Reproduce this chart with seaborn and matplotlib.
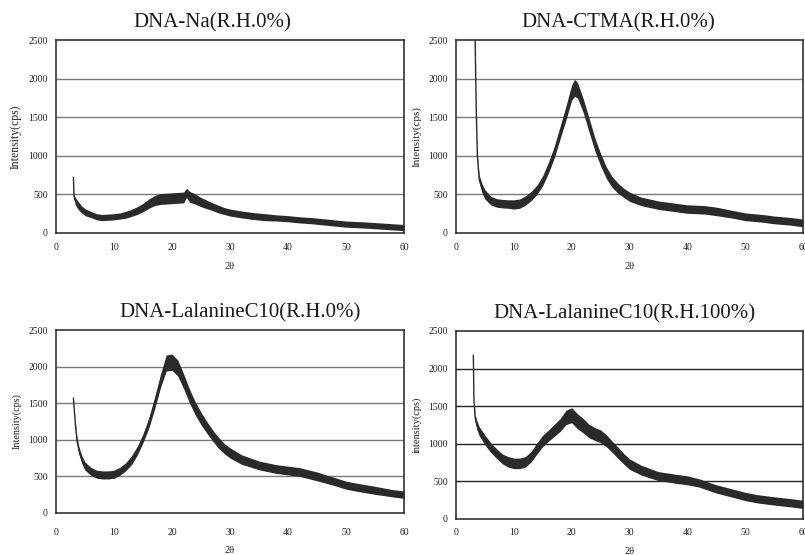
import pandas as pd
import numpy as np
import matplotlib
matplotlib.use("Agg")
import matplotlib.pyplot as plt
import seaborn as sns

# ---- data (2theta in degrees, intensity in cps) ----
# spread = approx. half-width of the noisy band around the trace

na_x = [3.0, 3.1, 3.3, 3.6, 4, 4.5, 5, 6, 7, 8, 9, 10, 11, 12, 13, 14, 15, 16, 17,
        18, 19, 20, 21, 22, 22.5, 23, 24, 25, 26, 27, 28, 29, 30, 32, 34, 36, 38,
        40, 42, 44, 46, 48, 50, 52, 54, 56, 58, 60]
na_y = [720, 480, 420, 380, 340, 300, 270, 240, 210, 200, 205, 210, 220, 235, 260,
        290, 330, 380, 420, 440, 445, 450, 455, 460, 520, 470, 440, 400, 370, 340,
        310, 285, 265, 240, 220, 205, 195, 185, 170, 160, 145, 130, 115, 108, 100,
        90, 80, 70]
na_spread = [0, 30, 45, 50, 50, 45, 45, 40, 40, 40, 40, 40, 40, 45, 45, 50, 55, 60,
             65, 70, 70, 70, 70, 70, 60, 70, 65, 60, 55, 50, 50, 45, 45, 45, 45, 45,
             40, 40, 40, 40, 40, 40, 40, 40, 40, 40, 40, 40]

ctma_x = [3.3, 3.5, 3.7, 4, 4.5, 5, 6, 7, 8, 9, 10, 11, 12, 13, 14, 15, 16, 17, 18,
          19, 20, 20.5, 21, 22, 23, 24, 25, 26, 27, 28, 29, 30, 32, 35, 38, 40, 43,
          45, 48, 50, 53, 55, 58, 60]
ctma_y = [2550, 1600, 1000, 700, 580, 500, 420, 390, 380, 375, 370, 380, 420, 480,
          560, 680, 850, 1050, 1300, 1550, 1820, 1880, 1850, 1650, 1400, 1150, 950,
          780, 660, 580, 520, 470, 410, 360, 330, 310, 300, 280, 240, 210, 190, 170,
          150, 130]
ctma_spread = [0, 0, 10, 50, 60, 60, 55, 55, 55, 55, 60, 60, 60, 60, 60, 65, 70, 75,
               80, 90, 100, 110, 100, 90, 90, 85, 80, 75, 70, 65, 60, 60, 55, 55, 55,
               55, 55, 55, 50, 50, 50, 50, 50, 50]

ala0_x = [3.0, 3.3, 3.6, 4, 4.5, 5, 6, 7, 8, 9, 10, 11, 12, 13, 14, 15, 16, 17, 18,
          19, 20, 21, 22, 23, 24, 25, 26, 27, 28, 29, 30, 32, 35, 38, 40, 42, 45, 48,
          50, 52, 55, 58, 60]
ala0_y = [1570, 1250, 1000, 840, 720, 640, 570, 530, 520, 520, 530, 570, 630, 720,
          850, 1020, 1230, 1500, 1800, 2050, 2060, 1980, 1800, 1600, 1430, 1290, 1170,
          1060, 960, 880, 820, 730, 650, 600, 580, 560, 500, 430, 380, 350, 310, 270,
          250]
ala0_spread = [0, 20, 40, 50, 55, 55, 55, 55, 55, 55, 55, 55, 55, 60, 60, 60, 70, 80,
               90, 110, 110, 110, 100, 95, 90, 85, 80, 75, 75, 70, 70, 65, 60, 60, 60,
               60, 60, 55, 55, 55, 55, 50, 50]

ala100_x = [3.0, 3.1, 3.3, 3.6, 4, 5, 6, 7, 8, 9, 10, 11, 12, 13, 14, 15, 16, 17, 18,
            19, 20, 21, 22, 23, 24, 25, 26, 27, 28, 29, 30, 32, 35, 38, 40, 42, 45,
            48, 50, 52, 55, 58, 60]
ala100_y = [2180, 1600, 1350, 1250, 1170, 1050, 950, 870, 800, 760, 740, 740, 760,
            830, 940, 1040, 1110, 1180, 1250, 1350, 1380, 1300, 1240, 1170, 1130, 1100,
            1040, 960, 880, 800, 730, 650, 570, 535, 515, 480, 400, 340, 300, 270, 240,
            215, 195]
ala100_spread = [0, 0, 40, 60, 60, 65, 65, 65, 65, 70, 70, 70, 70, 70, 75, 75, 75, 80,
                 85, 95, 100, 100, 95, 90, 85, 85, 80, 75, 75, 70, 70, 65, 60, 60, 60,
                 55, 55, 55, 55, 55, 55, 55, 55]

titles = ["DNA-Na(R.H.0%)", "DNA-CTMA(R.H.0%)",
          "DNA-LalanineC10(R.H.0%)", "DNA-LalanineC10(R.H.100%)"]
ylabels = ["Intensity(cps)", "Intensity(cps)", "Intensity(cps)", "intensity(cps)"]

sns.set_style("white")
plt.rcParams["font.family"] = ["Liberation Serif", "DejaVu Serif"]

fig = plt.figure(figsize=(8.05, 5.55), dpi=100)
W, H = 805, 555

# panel boxes in pixels: left, top, right, bottom
boxes = [(56, 40, 404, 233), (456, 40, 803, 233),
         (56, 330, 404, 513), (456, 331, 803, 519)]
title_x = [0.448, 0.468, 0.53, 0.486]
tick_pad = [7, 7, 11, 6.5]
ylab_size = [8.5, 8, 7.3, 7.5]
grid_col = ["#7a7a7a", "#7a7a7a", "#7a7a7a", "#222222"]

series = [(na_x, na_y, na_spread), (ctma_x, ctma_y, ctma_spread),
          (ala0_x, ala0_y, ala0_spread), (ala100_x, ala100_y, ala100_spread)]

line_col = "#2a2a2a"

for i, (l, t, r, b) in enumerate(boxes):
    ax = fig.add_axes([l / W, 1 - b / H, (r - l) / W, (b - t) / H])
    x, y, s = series[i]
    df = pd.DataFrame({"two_theta": x, "intensity": y, "spread": s})
    lo = df["intensity"] - df["spread"]
    hi = df["intensity"] + df["spread"]
    ax.fill_between(df["two_theta"], lo, hi, color=line_col, lw=0, zorder=3)
    sns.lineplot(data=df, x="two_theta", y="intensity", ax=ax, color=line_col,
                 lw=1.0, zorder=4)

    ax.set_xlim(0, 60)
    ax.set_ylim(0, 2500)
    ax.set_xticks(range(0, 61, 10))
    ax.set_yticks(range(0, 2501, 500))
    for yv in [500, 1000, 1500, 2000]:
        ax.axhline(yv, color=grid_col[i], lw=1.0, zorder=1)

    ax.tick_params(axis="x", direction="in", length=3, width=0.8, labelsize=7,
                   pad=tick_pad[i], colors="#222222")
    ax.tick_params(axis="y", length=0, labelsize=7, pad=6, colors="#222222")
    for sp in ax.spines.values():
        sp.set_color("#222222")
        sp.set_linewidth(1.1)

    hpx = b - t
    wpx = r - l
    ax.set_xlabel("2θ", fontsize=7.5, color="#222222")
    ax.xaxis.set_label_coords(0.5, -(tick_pad[i] + 22) / hpx)
    ax.set_ylabel(ylabels[i], fontsize=ylab_size[i], color="#222222")
    ax.yaxis.set_label_coords(-34 / wpx, 0.5)

    ax.text(title_x[i], 1 + 17.5 / hpx, titles[i], transform=ax.transAxes,
            ha="center", va="center", fontsize=15, color="#1a1a1a")

fig.savefig("out.png", dpi=100)
